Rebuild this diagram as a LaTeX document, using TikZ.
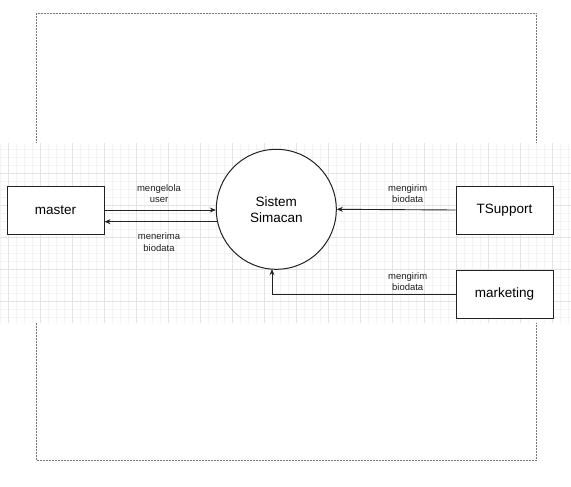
\documentclass[tikz,border=0pt]{standalone}
\usepackage{fontspec}
\setmainfont{Liberation Sans}
\usetikzlibrary{arrows.meta}
\definecolor{minorgrid}{HTML}{F3F3F3}
\definecolor{majorgrid}{HTML}{E3E3E3}
\definecolor{dotgray}{HTML}{777777}
\definecolor{ink}{HTML}{222222}
\tikzset{
  entity/.style={draw=ink, line width=1pt, fill=white, minimum width=97pt, minimum height=48pt, inner sep=0pt, font=\fontsize{13.5}{15}\selectfont},
  proc/.style={draw=ink, line width=1pt, fill=white, circle, minimum size=120pt, inner sep=0pt, align=center, font=\fontsize{13.5}{16}\selectfont},
  flow/.style={draw=ink, line width=0.9pt, -{Stealth[length=6pt,width=5pt]}},
  lbl/.style={align=center, inner sep=0pt, font=\fontsize{9.5}{11.5}\selectfont, text=ink},
  border/.style={draw=dotgray, line width=0.8pt, dash pattern=on 2pt off 1pt}
}
\begin{document}
\begin{tikzpicture}[x=1pt,y=-1pt]
\useasboundingbox (0,0) rectangle (571,487);
% dotted outer frame
\draw[border] (36.5,13.5) rectangle (536.5,460);
% grid band
\fill[white] (0,143) rectangle (571,323);
\begin{scope}
\clip (0,143) rectangle (571,323);
\foreach \i in {0,...,72} {\draw[minorgrid, line width=0.5pt] (\i*8,143) -- (\i*8,323);}
\foreach \j in {0,...,23} {\draw[minorgrid, line width=0.5pt] (0,141+\j*8) -- (571,141+\j*8);}
\foreach \i in {0,...,18} {\draw[majorgrid, line width=0.6pt] (8+\i*32,143) -- (8+\i*32,323);}
\foreach \j in {0,...,6} {\draw[majorgrid, line width=0.6pt] (0,141+\j*32) -- (571,141+\j*32);}
\end{scope}
% nodes
\node[proc] (sys) at (276.3,209.3) {Sistem\\Simacan};
\node[entity] (master) at (55.5,210) {master};
\node[entity] (ts) at (504.5,210) {TSupport};
\node[entity] (mkt) at (504.5,294) {marketing};
% connectors
\coordinate (mA) at (master.east |- 0,210);
\draw[flow] (master.east |- 0,210) -- (sys.west |- 0,210);
\draw[flow] (sys.west |- 0,221.7) ++(1.4,0) -- (master.east |- 0,221.7);
\draw[flow] (ts.west) -- (sys.east);
\coordinate (bend) at (272,294);
\draw[flow] (mkt.west) -- (bend) -- (272,269.2);
% labels
\node[lbl] (l1) at (159,193.5) {mengelola\\user};
\node[lbl] (l2) at (159,242) {menerima\\biodata};
\node[lbl] (l3) at (407.7,193.5) {mengirim\\biodata};
\node[lbl] (l4) at (407.7,281.5) {mengirim\\biodata};
\end{tikzpicture}
\end{document}
